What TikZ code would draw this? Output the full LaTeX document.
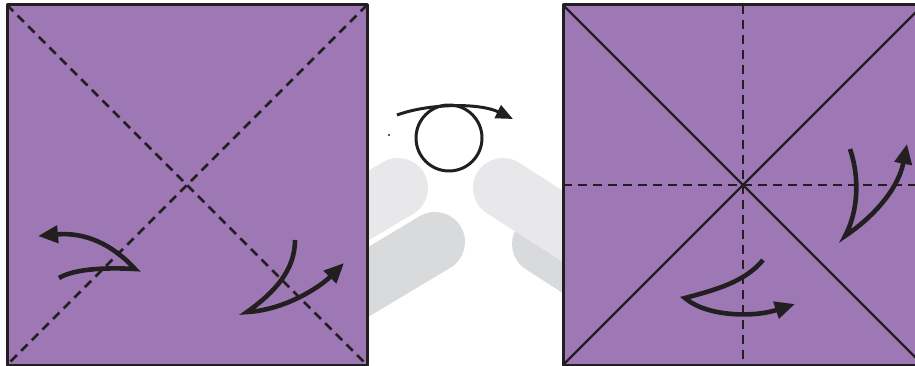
\documentclass[tikz,border=0pt]{standalone}
\usepackage{xcolor}
\usepackage{tikz}
\usetikzlibrary{arrows.meta}
\definecolor{paperpurple}{HTML}{9D78B5}
\definecolor{ink}{HTML}{231F20}
\definecolor{handlight}{HTML}{E8E8EA}
\definecolor{handdark}{HTML}{D9DADC}

\begin{document}
\begin{tikzpicture}[
    x=1pt, y=-1pt,
    line join=round,
    paper/.style={draw=ink, fill=paperpurple, line width=3pt, minimum size=360pt, inner sep=0pt, outer sep=0pt, anchor=north west},
    crease/.style={draw=ink, line width=2.5pt, dash pattern=on 9pt off 6pt},
    foldline/.style={draw=ink, line width=2.2pt},
    flipper/.style={-{Triangle[length=20pt, width=17pt]}, draw=ink, line width=4.6pt, line join=miter},
    turnarrow/.style={-{Triangle[length=17pt, width=14pt]}, draw=ink, line width=3pt},
    handlt/.style={draw=handlight, line width=60pt, line cap=round},
    handdk/.style={draw=handdark, line width=60pt, line cap=round},
    handgap/.style={draw=white, line width=66pt, line cap=round}
]

\useasboundingbox (0,0) rectangle (915,366);
\clip (0,0) rectangle (915,366);

% Hands behind the paper
\draw[handlt] (398,188) -- (290,252);
\draw[handgap] (435,242) -- (328,306);
\draw[handdk] (435,242) -- (328,306);
\draw[handdk] (542,244) -- (640,307);
\draw[handlt] (503,188) -- (609,256);

% Left sheet
\node[paper] (sheetL) at (7,5) {};
\draw[crease] (sheetL.north west) -- (sheetL.south east);
\draw[crease] (sheetL.north east) -- (sheetL.south west);

% Right sheet
\node[paper] (sheetR) at (563,5) {};
\draw[foldline] (sheetR.north west) -- (sheetR.south east);
\draw[foldline] (sheetR.north east) -- (sheetR.south west);
\draw[crease] (sheetR.north) -- (sheetR.south);
\draw[crease] (sheetR.west) -- (sheetR.east);

% Turn over
\node[draw=ink, line width=3pt, circle, minimum size=66pt, inner sep=0pt] (turn) at (449,138) {};
\coordinate (turnin) at (397,115);
\coordinate (turnout) at (513,119);
\draw[turnarrow] (turnin) .. controls (430,103) and (480,103) .. (turnout);
\fill[ink] (389,135) circle (1.2pt);

% Folding arrows
\draw[flipper] (59,278) .. controls (72,270) and (100,267) .. (135,269) .. controls (112,244) and (85,232) .. (38,236);
\draw[flipper] (295,240) .. controls (295,270) and (275,292) .. (247,312) .. controls (285,310) and (320,287) .. (344,263);
\draw[flipper] (763,260) .. controls (745,282) and (715,290) .. (685,298) .. controls (705,316) and (752,318) .. (795,304);
\draw[flipper] (850,149) .. controls (860,178) and (858,212) .. (845,236) .. controls (872,218) and (898,190) .. (907,144);

\end{tikzpicture}
\end{document}
